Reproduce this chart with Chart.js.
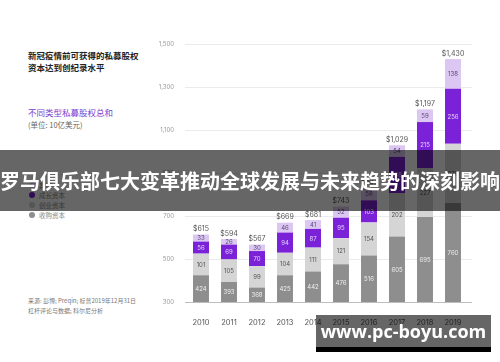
<!DOCTYPE html>
<html>
<head>
<meta charset="utf-8">
<script src="https://cdn.jsdelivr.net/npm/chart.js@4"></script>
<style>
  html, body { margin: 0; padding: 0; background: #fff; }
  body { width: 500px; height: 362px; position: relative; overflow: hidden; font-family: "Noto Sans CJK SC", "Noto Sans", sans-serif; }
  .txt { position: absolute; white-space: nowrap; line-height: 1; }
  #chartBox { position: absolute; left: 150px; top: 0; width: 322px; height: 362px; }
  .leg { position: absolute; left: 29px; font-size: 6.5px; color: #888; display: flex; align-items: center; }
  .leg i { display: inline-block; width: 6px; height: 6px; border-radius: 50%; margin-right: 4px; }
  #banner { position: absolute; left: 0; top: 150px; width: 500px; height: 61px; background: rgba(0,0,0,0.6);
            color: #fff; font-weight: bold; font-size: 20px; line-height: 61px; white-space: nowrap; overflow: hidden; }
  #mark { position: absolute; left: 316px; top: 315px; width: 175px; height: 32px; background: rgba(0,0,0,0.6);
          color: #fff; font-weight: bold; font-size: 18px; line-height: 32px; text-align: center; font-family: "Open Sans", "DejaVu Sans", sans-serif; }
  #markBar { position: absolute; left: 316px; top: 347px; width: 175px; height: 5px; background: #000; }
</style>
</head>
<body>
<div class="txt" style="left:28px;top:51px;font-size:8.5px;color:#222;font-weight:bold;">新冠疫情前可获得的私募股权</div>
<div class="txt" style="left:28px;top:63px;font-size:8.5px;color:#222;font-weight:bold;">资本达到创纪录水平</div>
<div class="txt" style="left:28px;top:108px;font-size:8.5px;color:#7b3fd0;">不同类型私募股权总和</div>
<div class="txt" style="left:28px;top:121px;font-size:7.5px;color:#666;">(单位: 10亿美元)</div>
<div id="legend"></div>
<div class="txt" style="left:28px;top:298px;font-size:6px;color:#777;">来源: 彭博; Preqin; 标普2019年12月31日</div>
<div class="txt" style="left:28px;top:308px;font-size:6px;color:#777;">杠杆评论与数据; 科尔尼分析</div>

<div id="chartBox"><canvas id="chartPE"></canvas></div>

<div id="banner">罗马俱乐部七大变革推动全球发展与未来趋势的深刻影响</div>
<div id="mark">www.pc-boyu.com</div>
<div id="markBar"></div>

<script>
// Dados (bilhões de USD)
const years = ['2010', '2011', '2012', '2013', '2014', '2015', '2016', '2017', '2018', '2019'];
const buyout = [424, 393, 368, 425, 442, 476, 516, 605, 695, 760];
const venture = [101, 105, 99, 104, 111, 121, 154, 202, 227, 276];
const growth = [56, 69, 70, 94, 87, 95, 103, 168, 215, 256];
const other = [33, 26, 30, 46, 41, 52, 58, 54, 59, 138];
const totals = ['$615', '$594', '$567', '$669', '$681', '$743', '$831', '$1,029', '$1,197', '$1,430'];
const seriesNames = ['其他', '成长资本', '创业资本', '收购资本'];
const yMin = 300, yMax = 1500, yStep = 200;

const colors = {
  buyout: '#8e8e8e',
  venture: '#d5d5d5',
  growth: '#7b22d8',
  other: '#dcc7f2'
};

// Legenda em HTML (ordem de cima para baixo)
const legendColors = [colors.other, colors.growth, colors.venture, colors.buyout];
const legendEl = document.getElementById('legend');
seriesNames.forEach((name, i) => {
  const d = document.createElement('div');
  d.className = 'leg';
  d.style.top = (180 + i * 10) + 'px';
  d.innerHTML = `<i style="background:${legendColors[i]}"></i>${name}`;
  legendEl.appendChild(d);
});

// Grade horizontal um pouco mais larga que a área do gráfico
const gridPlugin = {
  id: 'wideGrid',
  beforeDatasetsDraw(chart) {
    const ctx = chart.ctx;
    const y = chart.scales.y;
    ctx.save();
    y.ticks.forEach(t => {
      const py = Math.round(y.getPixelForValue(t.value)) + 0.5;
      ctx.strokeStyle = t.value === yMin ? '#bdbdbd' : '#ebebeb';
      ctx.lineWidth = 1;
      ctx.beginPath();
      ctx.moveTo(chart.chartArea.left - 2, py);
      ctx.lineTo(chart.chartArea.right + 5, py);
      ctx.stroke();
    });
    ctx.restore();
  }
};

// Rótulos dentro das barras e totais
const labelPlugin = {
  id: 'barLabels',
  afterDatasetsDraw(chart) {
    const ctx = chart.ctx;
    const area = chart.chartArea;
    ctx.save();
    ctx.textAlign = 'center';
    ctx.textBaseline = 'middle';
    ctx.font = '6px Inter, "Noto Sans", sans-serif';
    chart.data.datasets.forEach((ds, i) => {
      const meta = chart.getDatasetMeta(i);
      meta.data.forEach((bar, j) => {
        const top = bar.y;
        const base = Math.min(bar.base, area.bottom);
        ctx.fillStyle = ds.labelColor;
        ctx.fillText(ds.data[j], bar.x, (top + base) / 2 + 0.5);
      });
    });
    const last = chart.getDatasetMeta(chart.data.datasets.length - 1);
    ctx.font = '7px Inter, "Noto Sans", sans-serif';
    ctx.fillStyle = '#555';
    ctx.textBaseline = 'bottom';
    last.data.forEach((bar, j) => {
      ctx.fillText(totals[j], bar.x, bar.y - 2);
    });
    ctx.restore();
  }
};

const barOpts = { barPercentage: 0.57, categoryPercentage: 1, borderWidth: 0 };

new Chart(document.getElementById('chartPE'), {
  type: 'bar',
  data: {
    labels: years,
    datasets: [
      { label: seriesNames[3], data: buyout, backgroundColor: colors.buyout, labelColor: '#eeeeee', ...barOpts },
      { label: seriesNames[2], data: venture, backgroundColor: colors.venture, labelColor: '#555555', ...barOpts },
      { label: seriesNames[1], data: growth, backgroundColor: colors.growth, labelColor: '#e4d2fb', ...barOpts },
      { label: seriesNames[0], data: other, backgroundColor: colors.other, labelColor: '#5b4a7a', ...barOpts }
    ]
  },
  options: {
    responsive: true,
    maintainAspectRatio: false,
    animation: false,
    layout: { padding: { top: 44, right: 5, left: 0, bottom: 0 } },
    scales: {
      x: {
        stacked: true,
        grid: { display: false },
        border: { display: false },
        ticks: { color: '#555', font: { size: 7.5, family: 'Inter' }, padding: 8, maxRotation: 0 },
        afterFit: s => { s.height = 60; }
      },
      y: {
        stacked: true,
        min: yMin,
        max: yMax,
        grid: { display: false },
        border: { display: false },
        ticks: {
          stepSize: yStep,
          color: '#999',
          padding: 5,
          font: { size: 6, family: 'Inter' },
          callback: v => Number(v).toLocaleString('en-US')
        },
        afterFit: s => { s.width = 37; }
      }
    },
    plugins: {
      legend: { display: false },
      tooltip: { enabled: false }
    }
  },
  plugins: [gridPlugin, labelPlugin]
});
</script>
</body>
</html>
